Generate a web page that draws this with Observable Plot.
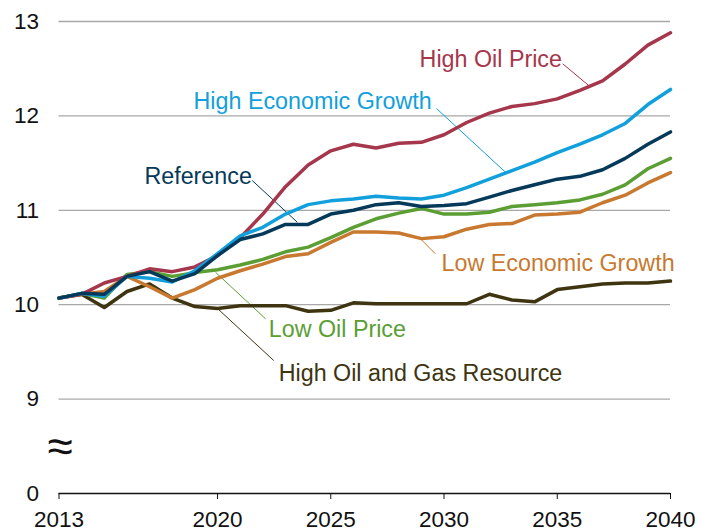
<!DOCTYPE html>
<html>
<head>
<meta charset="utf-8">
<script src="https://cdn.jsdelivr.net/npm/d3@7"></script>
<script src="https://cdn.jsdelivr.net/npm/@observablehq/plot@0.6"></script>
<style>
  html, body { margin: 0; padding: 0; background: #fff; }
  svg { display: block; font-family: "Liberation Sans", Arial, sans-serif; }
</style>
</head>
<body>
<div id="chart"></div>
<script>
const years = d3.range(2013, 2041);

const highOilAndGas = [10.07, 10.11, 9.97, 10.14, 10.22, 10.07, 9.98, 9.96,
  9.99, 9.99, 9.99, 9.93, 9.94, 10.02, 10.01, 10.01,
  10.01, 10.01, 10.01, 10.11, 10.05, 10.03, 10.16,
  10.19, 10.22, 10.23, 10.23, 10.25];
const lowGrowth = [10.07, 10.11, 10.14, 10.30, 10.19, 10.07, 10.16, 10.28,
  10.36, 10.43, 10.51, 10.54, 10.66, 10.77, 10.77, 10.76,
  10.70, 10.72, 10.80, 10.85, 10.86, 10.95, 10.96,
  10.98, 11.08, 11.16, 11.29, 11.40];
const lowOil = [10.07, 10.12, 10.07, 10.32, 10.35, 10.30, 10.34, 10.37,
  10.42, 10.48, 10.56, 10.61, 10.71, 10.82, 10.91, 10.97,
  11.02, 10.96, 10.96, 10.98, 11.04, 11.06, 11.08,
  11.11, 11.17, 11.27, 11.44, 11.55];
const highOil = [10.07, 10.11, 10.23, 10.30, 10.38, 10.35, 10.40, 10.52,
  10.71, 10.96, 11.25, 11.48, 11.63, 11.70, 11.66, 11.71,
  11.72, 11.80, 11.93, 12.03, 12.10, 12.13, 12.18,
  12.27, 12.37, 12.55, 12.75, 12.88];
const highGrowth = [10.07, 10.12, 10.09, 10.30, 10.28, 10.24, 10.36, 10.54,
  10.73, 10.82, 10.96, 11.06, 11.10, 11.12, 11.15, 11.13,
  11.12, 11.16, 11.24, 11.33, 11.42, 11.51, 11.61,
  11.70, 11.80, 11.92, 12.12, 12.28];
const reference = [10.07, 10.12, 10.11, 10.30, 10.35, 10.25, 10.33, 10.52,
  10.69, 10.75, 10.85, 10.85, 10.96, 11.00, 11.06, 11.08,
  11.04, 11.05, 11.07, 11.14, 11.21, 11.27, 11.33,
  11.36, 11.43, 11.55, 11.70, 11.83];

const seriesNames = ["High Oil and Gas Resource", "Low Economic Growth", "Low Oil Price",
  "High Oil Price", "High Economic Growth", "Reference"];
const seriesValues = [highOilAndGas, lowGrowth, lowOil, highOil, highGrowth, reference];
const seriesColors = ["#3e3410", "#c8792f", "#5b9e34", "#a5364b", "#12a0dc", "#05395a"];

const yTicks = [8, 9, 10, 11, 12, 13];
const yTickLabels = ["0", "9", "10", "11", "12", "13"];
const xTicks = [2013, 2020, 2025, 2030, 2035, 2040];

// label anchors (data units) and leader lines
const labelNames = ["High Oil Price", "High Economic Growth", "Reference", "Low Economic Growth", "Low Oil Price", "High Oil and Gas Resource"];
const labelX = [2028.92, 2018.94, 2016.77, 2029.89, 2022.26, 2022.70];
const labelY = [12.60, 12.153, 11.358, 10.436, 9.737, 9.271];
const leadX1 = [2035.24, 2029.67, 2021.53, 2029.62, 2019.91, 2020.06];
const leadY1 = [12.552, 12.078, 11.316, 10.539, 10.344, 9.946];
const leadX2 = [2036.39, 2032.76, 2023.52, 2028.96, 2022.12, 2022.48];
const leadY2 = [12.322, 11.393, 10.874, 10.698, 9.851, 9.409];

const tidy = [];
seriesNames.forEach((name, i) => {
  years.forEach((yr, j) => tidy.push({name, year: yr, value: seriesValues[i][j]}));
});
const labels = labelNames.map((name, i) => ({
  name, x: labelX[i], y: labelY[i], x1: leadX1[i], y1: leadY1[i], x2: leadX2[i], y2: leadY2[i]
}));

const chart = Plot.plot({
  width: 711,
  height: 531,
  marginLeft: 58.5,
  marginRight: 41,
  marginTop: 21,
  marginBottom: 38,
  style: {fontFamily: '"Liberation Sans", Arial, sans-serif', background: "#fff"},
  x: {domain: [2013, 2040]},
  y: {domain: [8, 13]},
  color: {domain: seriesNames, range: seriesColors},
  marks: [
    Plot.ruleY([9, 10, 11, 12, 13], {stroke: "#a8a8a8", strokeWidth: 1.3}),
    Plot.ruleY([8], {stroke: "#111", strokeWidth: 1.5}),
    Plot.axisY({ticks: yTicks, tickFormat: (d) => yTickLabels[yTicks.indexOf(d)], tickSize: 0, tickPadding: 20, fontSize: 22.5, fill: "#111", label: null}),
    Plot.axisX({ticks: xTicks, tickFormat: d3.format("d"), tickSize: 6, tickPadding: 12, fontSize: 22.5, stroke: "#111", fill: "#111", label: null}),
    Plot.text(["≈"], {x: 2013, y: 8.5, text: d => d, fontSize: 46, dx: 1, dy: 1, fontFamily: '"Liberation Sans", Arial, sans-serif', fill: "#111"}),
    Plot.link(labels, {x1: "x1", y1: "y1", x2: "x2", y2: "y2", stroke: "name", strokeWidth: 1}),
    Plot.line(tidy, {x: "year", y: "value", z: "name", stroke: "name", strokeWidth: 3.5, strokeLinejoin: "round"}),
    Plot.text(labels, {x: "x", y: "y", text: "name", fill: "name", textAnchor: "start", fontSize: 23.3})
  ]
});
document.getElementById("chart").appendChild(chart);
</script>
</body>
</html>
